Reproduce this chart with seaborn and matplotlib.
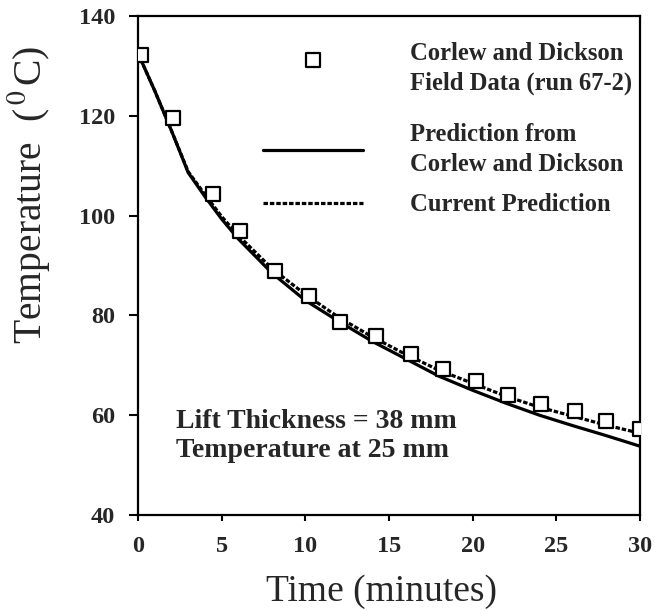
import matplotlib
matplotlib.use("Agg")
import matplotlib.pyplot as plt
import seaborn as sns
import pandas as pd

# ---- data ----
field_time = [0.2, 2.1, 4.5, 6.1, 8.2, 10.2, 12.1, 14.2, 16.3, 18.2, 20.2, 22.1, 24.1, 26.1, 28.0, 30.0]
field_temp = [132.2, 119.6, 104.3, 96.9, 88.9, 83.9, 78.7, 75.9, 72.3, 69.3, 66.9, 64.1, 62.2, 60.8, 58.8, 57.3]

pred_time = [0, 1, 2, 3, 4, 5, 6, 8, 10, 12, 14, 16, 18, 20, 22, 24, 26, 28, 30]
corlew_pred = [132.5, 125.0, 117.0, 108.6, 103.8, 99.3, 95.3, 88.5, 83.0, 78.8, 74.8, 71.3, 67.8, 65.0, 62.4, 60.0, 57.9, 55.9, 53.8]
current_pred = [132.5, 125.0, 117.0, 108.8, 104.2, 99.8, 96.0, 89.4, 84.2, 79.6, 75.7, 72.2, 69.0, 66.4, 63.8, 61.6, 59.8, 58.0, 56.4]

x_ticks = [0, 5, 10, 15, 20, 25, 30]
y_ticks = [40, 60, 80, 100, 120, 140]

label_field = "Corlew and Dickson\nField Data (run 67-2)"
label_corlew = "Prediction from\nCorlew and Dickson"
label_current = "Current Prediction"
note_text = "Lift Thickness = 38 mm\nTemperature at 25 mm"

# ---- style ----
sns.set_style("ticks")
plt.rcParams["font.family"] = ["Liberation Serif", "DejaVu Serif"]
plt.rcParams["mathtext.fontset"] = "stix"

fig = plt.figure(figsize=(6.55, 6.11), dpi=100)
ax = fig.add_axes([0.2107, 0.157, 0.7663, 0.817])

df_field = pd.DataFrame({"t": field_time, "T": field_temp})
df_pred = pd.DataFrame({"t": pred_time, "c": corlew_pred, "p": current_pred})

sns.lineplot(data=df_pred, x="t", y="c", ax=ax, color="black", lw=2.3,
             label=label_corlew, zorder=2)
sns.lineplot(data=df_pred, x="t", y="p", ax=ax, color="black", lw=2.3,
             linestyle=(0, (1.4, 0.6)), label=label_current, zorder=3)
sns.scatterplot(data=df_field, x="t", y="T", ax=ax, marker="s", s=95,
                facecolor="white", edgecolor="black", linewidth=1.6,
                label=label_field, zorder=4)

ax.set_xlim(0, 30)
ax.set_ylim(40, 140)
ax.set_xticks(x_ticks)
ax.set_yticks(y_ticks)
ax.set_xticklabels([str(v) for v in x_ticks], fontsize=17.5, fontweight="bold")
ax.set_yticklabels([str(v) for v in y_ticks], fontsize=17.5, fontweight="bold")
ax.tick_params(axis="x", direction="out", length=4.5, width=1.5, pad=10.5, color="black")
ax.tick_params(axis="y", direction="out", length=6.5, width=1.5, pad=10, color="black")
for sp in ax.spines.values():
    sp.set_visible(True)
    sp.set_linewidth(1.6)
    sp.set_color("black")

ax.set_xlabel("Time (minutes)", fontsize=27)
ax.xaxis.set_label_coords(0.486, -0.118)
ax.set_ylabel(r"Temperature  ($^{\,0\,}$C)", fontsize=28.5)
ax.yaxis.set_label_coords(-0.172, 0.641)

handles, labels = ax.get_legend_handles_labels()
hd = dict(zip(labels, handles))
leg_font = {"family": "Liberation Serif", "weight": "bold", "size": 17.7}
leg1 = ax.legend([hd[label_field]], [label_field], loc="upper left",
                 bbox_to_anchor=(0.249, 0.948), frameon=False, prop=leg_font,
                 handlelength=4.07, handletextpad=1.9, borderpad=0,
                 borderaxespad=0, scatterpoints=1, scatteryoffsets=[1.0])
for t in leg1.get_texts():
    t.set_linespacing(1.4)
ax.add_artist(leg1)
leg2 = ax.legend([hd[label_corlew], hd[label_current]], [label_corlew, label_current],
                 loc="upper left", bbox_to_anchor=(0.249, 0.786), frameon=False,
                 prop=leg_font, handlelength=4.07, handletextpad=1.9,
                 labelspacing=0.7, borderpad=0, borderaxespad=0)
for t in leg2.get_texts():
    t.set_linespacing(1.4)

ax.text(0.076, 0.158, note_text, transform=ax.transAxes, fontsize=20,
        fontweight="bold", va="center", ha="left", linespacing=1.2)

fig.savefig("out.png", dpi=100)
